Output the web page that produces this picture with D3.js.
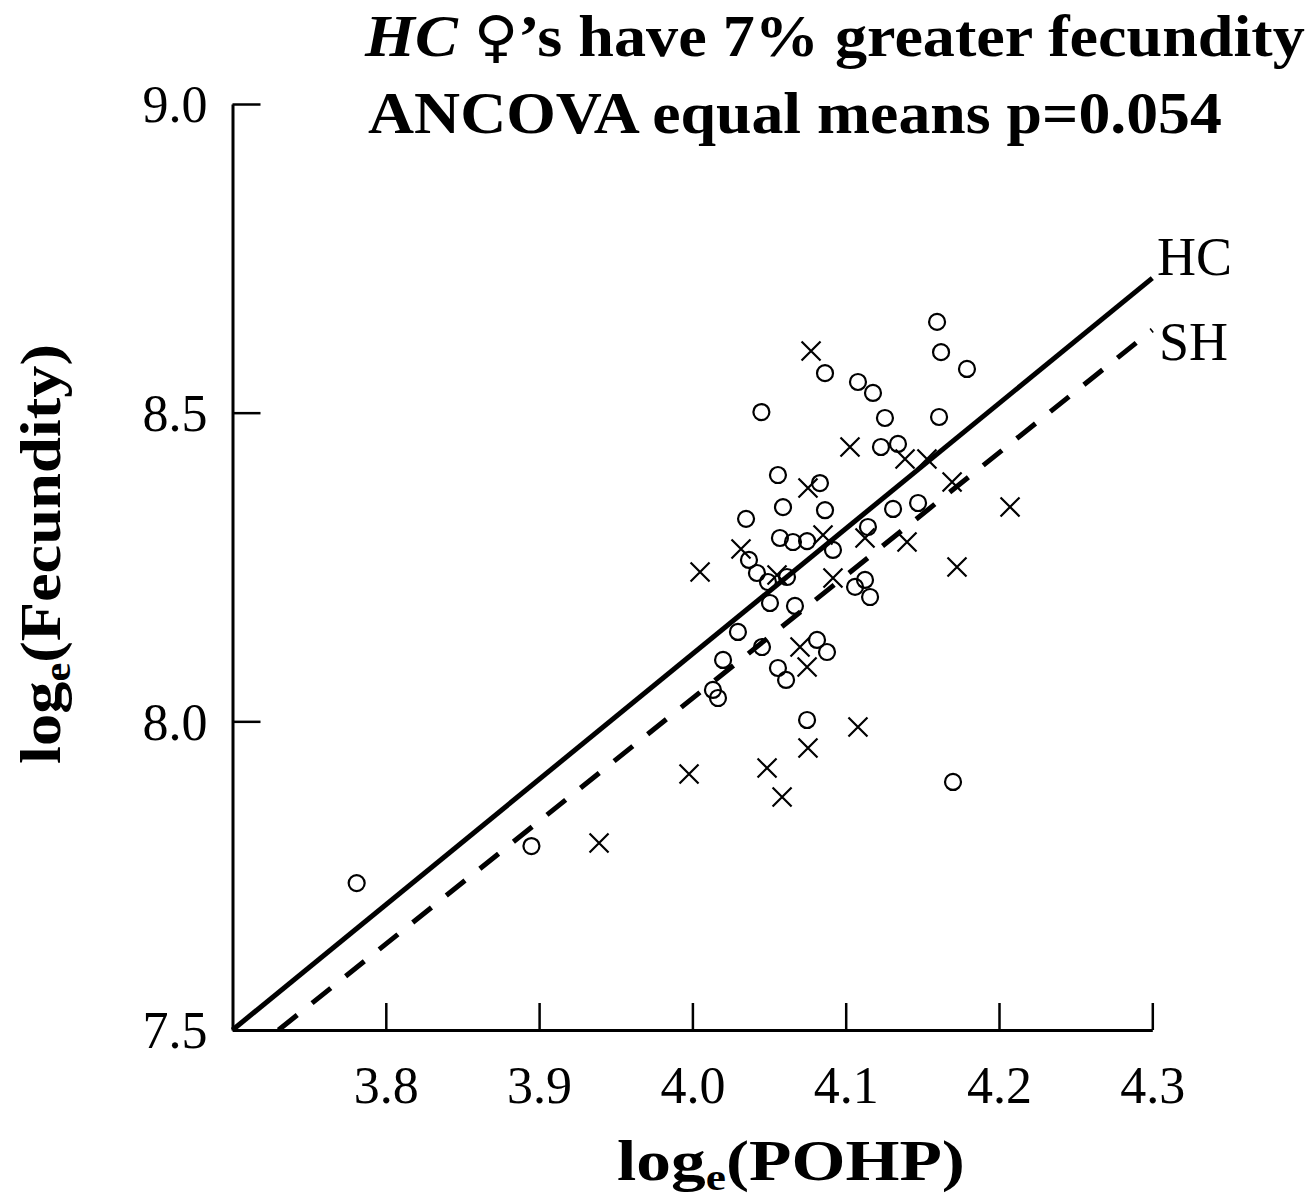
<!DOCTYPE html>
<html><head><meta charset="utf-8">
<script src="https://cdn.jsdelivr.net/npm/d3@7"></script>
<style>body{margin:0;background:#fff}</style></head>
<body>
<svg id="c" width="1315" height="1201"></svg>
<script>
// ---- data ----
const xTicks = [3.8, 3.9, 4.0, 4.1, 4.2, 4.3];
const yTicks = [7.5, 8.0, 8.5, 9.0];
// HC females (open circles)
const hcX = [3.781,3.895,4.045,4.0865,4.0558,4.0832,4.0591,4.0865,4.035,4.0571,4.0656,4.0748,4.0917,4.0369,4.0421,4.0493,4.0617,4.0506,4.0669,4.0297,4.0454,4.02,4.0134,4.0167,4.0813,4.0878,4.0558,4.0611,4.0748,4.1596,4.1622,4.1791,4.108,4.1178,4.1256,4.1609,4.123,4.1341,4.1309,4.1472,4.1145,4.1126,4.1061,4.1159,4.17];
const hcY = [7.738,7.798,8.501,8.564,8.399,8.386,8.347,8.342,8.328,8.297,8.2905,8.292,8.2776,8.2614,8.2403,8.2257,8.2338,8.1917,8.1869,8.1448,8.1204,8.0994,8.0508,8.0378,8.1318,8.1123,8.0864,8.067,8.0022,8.647,8.598,8.5708,8.5497,8.5319,8.4914,8.493,8.4444,8.4493,8.344,8.3537,8.3148,8.229,8.2177,8.2014,7.9018];
// SH females (crosses)
const shX = [3.9391,3.9978,4.005,4.0317,4.0487,4.0585,4.0754,4.0774,4.0754,4.0852,4.0552,4.0917,4.0702,4.0748,4.1028,4.108,4.1126,4.14,4.1387,4.153,4.1694,4.1726,4.2072];
const shY = [7.8029,7.9147,8.2419,8.2792,7.9244,7.8775,7.9568,8.6,8.378,8.3019,8.2371,8.2322,8.1204,8.088,8.4444,7.9909,8.297,8.2905,8.425,8.425,8.3877,8.25,8.3473];
// fitted lines
const lineHC = [[3.7, 7.5], [4.3, 8.718]];
const lineSH = [[3.73, 7.5], [4.3, 8.634]];

// ---- chart ----
const svg = d3.select("#c");
const FONT = "'Liberation Serif','Times New Roman',Times,serif";
const x = d3.scaleLinear().domain([3.7, 4.3]).range([232.5, 1152.3]);
const y = d3.scaleLinear().domain([7.5, 9.0]).range([1030, 104]);

// axes
const gx = svg.append("g").attr("transform", `translate(0,${y(7.5)})`)
  .call(d3.axisBottom(x).tickValues(xTicks).tickFormat(d3.format(".1f"))
    .tickSizeInner(-27).tickSizeOuter(0).tickPadding(36));
const gy = svg.append("g").attr("transform", `translate(${x(3.7)},0)`)
  .call(d3.axisLeft(y).tickValues(yTicks).tickFormat(d3.format(".1f"))
    .tickSizeInner(-28).tickSizeOuter(0).tickPadding(25));
[gx, gy].forEach(g => {
  g.select(".domain").attr("stroke", "#000").attr("stroke-width", 3);
  g.selectAll(".tick line").attr("stroke", "#000").attr("stroke-width", 2.5);
  g.selectAll(".tick text").attr("font-family", FONT).attr("font-size", 52).attr("fill", "#000");
});
gy.selectAll(".tick text").attr("dy", "0.34em");

// lines
const ln = d3.line().x(d => x(d[0])).y(d => y(d[1]));
svg.append("path").datum(lineHC).attr("d", ln).attr("fill", "none")
  .attr("stroke", "#000").attr("stroke-width", 5);
svg.append("path").datum(lineSH).attr("d", ln).attr("fill", "none")
  .attr("stroke", "#000").attr("stroke-width", 5).attr("stroke-dasharray", "24,19");

// points
svg.append("g").selectAll("circle").data(d3.range(hcX.length)).join("circle")
  .attr("cx", i => x(hcX[i])).attr("cy", i => y(hcY[i])).attr("r", 8)
  .attr("fill", "none").attr("stroke", "#000").attr("stroke-width", 2.2);
const s = 9.5;
svg.append("g").selectAll("path").data(d3.range(shX.length)).join("path")
  .attr("d", i => { const cx = x(shX[i]), cy = y(shY[i]);
    return `M${cx-s},${cy-s}L${cx+s},${cy+s}M${cx-s},${cy+s}L${cx+s},${cy-s}`; })
  .attr("fill", "none").attr("stroke", "#000").attr("stroke-width", 2.2);

// line labels
svg.append("text").attr("x", 1157).attr("y", 275).text("HC")
  .attr("font-family", FONT).attr("font-size", 54);
svg.append("text").attr("x", 1159).attr("y", 360).text("SH")
  .attr("font-family", FONT).attr("font-size", 54);

function fit(t, w) { return w / t.node().getComputedTextLength(); }

// titles
const t1g = svg.append("g");
const t1 = t1g.append("text").attr("font-family", FONT).attr("font-size", 59).attr("font-weight", "bold");
t1.append("tspan").attr("font-style", "italic").text("HC ");
t1.append("tspan").attr("font-weight", "normal").attr("font-family", "'DejaVu Sans',sans-serif").attr("font-size", 56).text("♀");
t1.append("tspan").text("’s have 7% greater fecundity");
t1g.attr("transform", `translate(365,56) scale(${fit(t1, 940)},1)`);

const t2g = svg.append("g");
const t2 = t2g.append("text").attr("font-family", FONT).attr("font-size", 59).attr("font-weight", "bold")
  .text("ANCOVA equal means p=0.054");
t2g.attr("transform", `translate(368,133) scale(${fit(t2, 854)},1)`);

// x axis title
const xtg = svg.append("g");
const xt = xtg.append("text").attr("font-family", FONT).attr("font-size", 58).attr("font-weight", "bold");
xt.append("tspan").text("log");
xt.append("tspan").attr("font-size", 38).attr("dy", 10).text("e");
xt.append("tspan").attr("dy", -10).text("(POHP)");
xtg.attr("transform", `translate(617,1180) scale(${fit(xt, 348)},1)`);

// y axis title
const ytg = svg.append("g");
const yt = ytg.append("text").attr("font-family", FONT).attr("font-size", 58).attr("font-weight", "bold");
yt.append("tspan").text("log");
yt.append("tspan").attr("font-size", 38).attr("dy", 10).text("e");
yt.append("tspan").attr("dy", -10).text("(Fecundity)");
ytg.attr("transform", `translate(60,764) rotate(-90) scale(${fit(yt, 420)},1)`);
</script>
</body></html>
